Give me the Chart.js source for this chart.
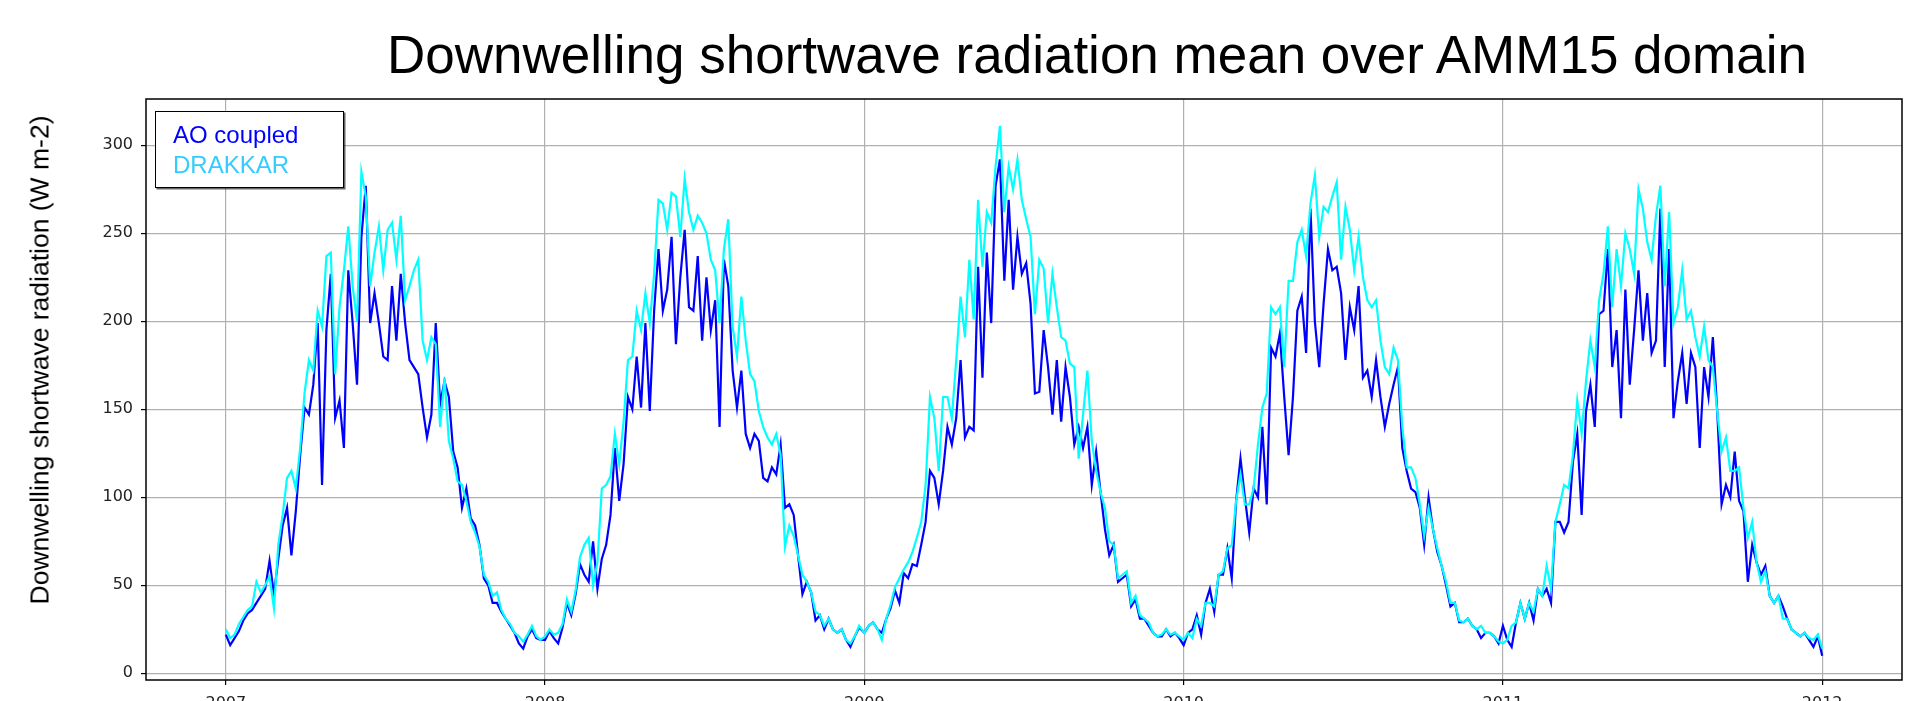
<!DOCTYPE html>
<html>
<head>
<meta charset="utf-8">
<title>Downwelling shortwave radiation mean over AMM15 domain</title>
<script src="https://cdn.jsdelivr.net/npm/chart.js@4.4.1/dist/chart.umd.min.js"></script>
<style>
  html, body { margin: 0; padding: 0; background: #fff; overflow: hidden; }
  #wrap { position: relative; width: 1915px; height: 701px; overflow: hidden; }
  #chart { position: absolute; left: 0; top: 0; }
  #titulo {
    position: absolute; left: 387px; top: 28px; white-space: nowrap; color: #000;
    font: 53px/53px "Liberation Sans", Arial, sans-serif;
  }
  #ylabel {
    position: absolute; left: 40px; top: 360px; width: 600px; height: 27px;
    font: 26.5px/27px "Liberation Sans", Arial, sans-serif; color: #000;
    text-align: center; white-space: nowrap;
    transform: translate(-50%, -50%) rotate(-90deg);
  }
  #leyenda {
    position: absolute; left: 155px; top: 111px; width: 189px; height: 77px;
    box-sizing: border-box; border: 1.5px solid #000; background: #fff;
    box-shadow: 1.5px 1.5px 0 rgba(0,0,0,0.6);
    padding: 8px 0 0 17px;
    font: 24px/30px "Liberation Sans", Arial, sans-serif;
  }
</style>
</head>
<body>
<div id="wrap">
  <canvas id="chart" width="1915" height="760"></canvas>
  <div id="titulo">Downwelling shortwave radiation mean over AMM15 domain</div>
  <div id="ylabel">Downwelling shortwave radiation (W m-2)</div>
  <div id="leyenda"></div>
</div>
<script>
// días del año muestreados (cada 5 días)
const sampleDays = [0,5,10,15,20,25,30,35,40,45,50,55,60,65,70,75,80,85,90,95,
  100,105,110,115,120,125,130,135,140,145,150,155,160,165,170,175,180,185,190,195,
  200,205,210,215,220,225,230,235,240,245,250,255,260,265,270,275,280,285,290,295,
  300,305,310,315,320,325,330,335,340,345,350,355,360];

const years = [2007, 2008, 2009, 2010, 2011];
const yearTicks = [2007, 2008, 2009, 2010, 2011, 2012];
const yTicks = [0, 50, 100, 150, 200, 250, 300];

// AO coupled (W m-2)
const ao2007 = [22,16,20,24,30,34,36,40,44,48, 64,45,65,84,94,67,92,124,151,147,
  164,199,107,195,227,145,155,128,229,199, 164,248,277,199,216,199,180,178,220,189,
  227,199,178,174,170,151,134,147,199,153, 166,157,126,117,94,105,88,84,73,54,
  50,40,40,35,31,27,23,17,14,21, 25,20,19];
const ao2008 = [19,24,20,17,26,40,33,45,62,56, 52,75,48,65,73,90,128,98,119,157,
  150,180,151,199,149,206,241,206,218,248, 187,225,252,208,206,237,189,225,195,212,
  140,235,220,172,151,172,136,128,136,132, 111,109,117,113,130,94,96,90,67,45,
  52,46,30,33,25,31,25,23,25,19, 15,21,26];
const ao2009 = [23,27,29,25,23,31,37,47,40,57, 54,62,61,73,86,115,111,96,115,140,
  130,145,178,134,140,138,231,168,239,199, 277,292,223,269,218,248,227,233,210,159,
  160,195,174,147,178,143,174,157,130,140, 128,140,107,126,103,82,67,73,52,54,
  56,38,42,31,31,27,23,21,21,25, 21,23,20];
const ao2010 = [16,23,25,33,22,40,48,35,56,56, 71,54,98,122,100,80,105,100,140,96,
  185,180,193,157,124,157,206,214,182,264, 200,174,210,241,229,231,216,178,208,195,
  220,168,172,157,178,157,140,153,164,174, 128,115,105,103,94,73,100,82,69,61,
  50,38,40,29,29,31,27,25,20,23, 23,21,17];
const ao2011 = [27,19,15,29,40,31,40,30,48,44, 48,40,86,86,80,86,120,136,90,149,
  164,140,204,206,241,174,195,145,218,164, 195,229,189,216,182,189,264,174,241,145,
  166,182,153,182,174,128,174,157,191,149, 96,107,100,126,98,92,52,73,63,56,
  61,44,40,44,38,31,25,23,21,23, 19,15,21];
const aoEnd = 10; // 2012-01-01

// DRAKKAR (W m-2)
const drakkar2007 = [25,20,22,28,32,36,38,52,46,50, 55,37,73,90,111,115,105,128,159,178,
  172,206,197,237,239,170,208,229,254,220, 200,285,271,220,239,254,229,252,256,235,
  260,212,220,229,235,189,178,191,187,140, 168,132,122,109,107,98,86,80,72,56,
  52,44,46,36,31,28,23,21,18,22, 27,21,19];
const drakkar2008 = [21,25,22,23,28,42,35,47,66,73, 77,50,63,105,107,112,136,119,143,178,
  180,206,195,216,199,227,269,267,252,273, 271,248,281,262,252,260,256,250,235,229,
  199,241,258,197,180,214,189,170,166,149, 140,134,130,136,124,72,84,78,67,56,
  52,46,35,33,27,31,25,23,25,19, 17,21,27];
const drakkar2009 = [23,27,29,25,19,31,39,49,54,59, 63,69,77,86,107,157,145,115,157,157,
  145,178,214,191,235,201,269,231,262,256, 288,311,262,288,275,292,269,258,248,204,
  235,230,199,227,208,191,189,176,174,122, 147,172,132,115,103,94,75,73,54,56,
  58,40,44,33,31,29,23,21,22,25, 22,23,21];
const drakkar2010 = [19,23,20,31,27,40,40,38,56,58, 71,73,98,113,96,96,105,130,151,159,
  208,204,208,174,223,223,245,252,237,267, 283,248,265,262,271,279,235,265,252,229,
  248,225,212,208,212,189,174,170,185,178, 140,117,117,111,96,78,94,82,71,61,
  52,40,40,30,29,31,27,25,27,23, 23,21,18];
const drakkar2011 = [17,19,27,29,40,31,40,35,48,44, 61,48,86,96,107,105,124,155,136,166,
  189,174,212,227,254,208,241,220,250,241, 227,275,264,245,235,260,277,220,262,199,
  208,229,201,206,191,180,197,178,174,149, 126,134,115,115,117,94,77,86,63,52,
  58,44,40,44,31,31,25,23,21,23, 20,19,22];
const drakkarEnd = 14;

function construirPuntos(porAnio, fin) {
  const pts = [];
  years.forEach((y, i) => {
    const dias = (y % 4 === 0) ? 366 : 365;
    sampleDays.forEach((d, j) => pts.push({ x: y + d / dias, y: porAnio[i][j] }));
  });
  pts.push({ x: 2012, y: fin });
  return pts;
}

const series = [
  { label: 'AO coupled', values: [ao2007, ao2008, ao2009, ao2010, ao2011], end: aoEnd,
    line: '#0000ff', text: '#0000ff', order: 1 },
  { label: 'DRAKKAR', values: [drakkar2007, drakkar2008, drakkar2009, drakkar2010, drakkar2011], end: drakkarEnd,
    line: '#00ffff', text: '#33ccff', order: 0 }
];

// leyenda propia: solo texto de color dentro de un recuadro
function crearLeyenda() {
  const box = document.getElementById('leyenda');
  box.innerHTML = series.map(s => `<div style="color:${s.text}">${s.label}</div>`).join('');
}

const marcoPlugin = {
  id: 'marco',
  afterDraw(chart) {
    const { ctx, chartArea: a } = chart;
    ctx.save();
    ctx.strokeStyle = '#000';
    ctx.lineWidth = 1.5;
    ctx.strokeRect(a.left, a.top, a.right - a.left, a.bottom - a.top);
    ctx.restore();
  }
};

const gridOpts = { color: '#b0b0b0', lineWidth: 1.2, tickLength: 5, tickColor: '#000', tickWidth: 1.2 };
const tickFont = { family: 'DejaVu Sans', size: 16 };

new Chart(document.getElementById('chart'), {
  type: 'line',
  data: {
    datasets: series.map(s => ({
      label: s.label,
      data: construirPuntos(s.values, s.end),
      borderColor: s.line,
      backgroundColor: s.line,
      borderWidth: 2.2,
      pointRadius: 0,
      tension: 0,
      order: s.order
    }))
  },
  options: {
    responsive: false,
    animation: false,
    layout: { padding: { top: 99, right: 13, left: 0, bottom: 0 } },
    plugins: { legend: { display: false }, tooltip: { enabled: false }, title: { display: false } },
    scales: {
      x: {
        type: 'linear', min: 2006.75, max: 2012.25,
        afterBuildTicks: s => { s.ticks = yearTicks.map(v => ({ value: v })); },
        afterFit: s => { s.height = 80; },
        grid: gridOpts,
        border: { display: false },
        ticks: { color: '#222', font: tickFont, padding: 9, maxRotation: 0, autoSkip: false, callback: v => String(v) }
      },
      y: {
        min: -3.8, max: 326.3,
        afterBuildTicks: s => { s.ticks = yTicks.map(v => ({ value: v })); },
        afterFit: s => { s.width = 146; },
        grid: gridOpts,
        border: { display: false },
        ticks: { color: '#222', font: tickFont, padding: 8, callback: v => String(v) }
      }
    }
  },
  plugins: [marcoPlugin]
});

crearLeyenda();
</script>
</body>
</html>
